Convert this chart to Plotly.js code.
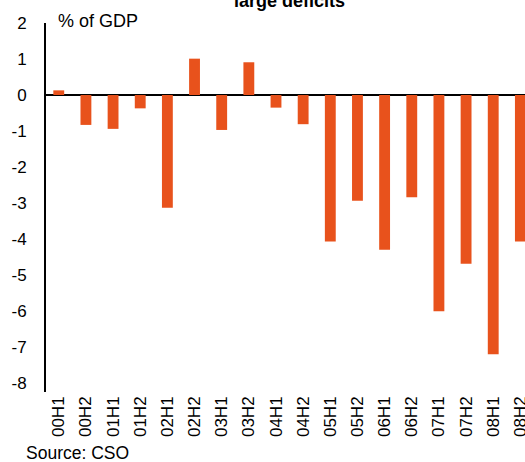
<!DOCTYPE html>
<html>
<head>
<meta charset="utf-8">
<script src="https://cdn.plot.ly/plotly-3.0.1.min.js"></script>
<style>html,body{margin:0;padding:0;background:#fff;}#chart{width:525px;height:462px;}</style>
</head>
<body>
<div id="chart"></div>
<script>
var categories = ["00H1","00H2","01H1","01H2","02H1","02H2","03H1","03H2","04H1","04H2","05H1","05H2","06H1","06H2","07H1","07H2","08H1","08H2"];
var balance = [0.13,-0.83,-0.94,-0.37,-3.13,1.01,-0.97,0.91,-0.35,-0.81,-4.07,-2.94,-4.30,-2.84,-6.01,-4.69,-7.20,-4.07];
var yTicks = [2,1,0,-1,-2,-3,-4,-5,-6,-7,-8];
var titleText = "large deficits";
var unitText = "% of GDP";
var sourceText = "Source: CSO";

var font = "Arial, 'Liberation Sans', sans-serif";

var trace = {
  type: "bar",
  x: categories,
  y: balance,
  marker: {color: "#E8521C", line: {width: 0}},
  width: 0.4,
  hoverinfo: "none"
};

var layout = {
  width: 525,
  height: 462,
  margin: {l: 46, r: 0, t: 23, b: 70, pad: 0},
  paper_bgcolor: "#ffffff",
  plot_bgcolor: "#ffffff",
  showlegend: false,
  font: {family: font, size: 17, color: "#000"},
  xaxis: {
    type: "category",
    range: [-0.47, 17.17],
    tickangle: -90,
    ticks: "",
    showgrid: false,
    zeroline: false,
    showline: false,
    tickfont: {family: font, size: 17, color: "#000"},
    fixedrange: true
  },
  yaxis: {
    range: [-8.25, 2.001],
    tickvals: yTicks,
    ticktext: yTicks.map(String),
    ticks: "",
    ticklabelstandoff: 14,
    showgrid: false,
    zeroline: true,
    zerolinecolor: "#000",
    zerolinewidth: 2,
    showline: true,
    linecolor: "#000",
    linewidth: 2,
    tickfont: {family: font, size: 17, color: "#000"},
    fixedrange: true
  },
  annotations: [
    {text: "<b>" + titleText + "</b>", xref: "paper", yref: "paper", x: 0.509, y: 1.06,
     xanchor: "center", yanchor: "middle", showarrow: false, font: {family: font, size: 18, color: "#000"}},
    {text: unitText, xref: "paper", yref: "paper", x: 0.021, y: 1.005,
     xanchor: "left", yanchor: "middle", showarrow: false, font: {family: font, size: 18, color: "#000"}},
    {text: sourceText, xref: "paper", yref: "paper", x: -0.046, y: -0.165,
     xanchor: "left", yanchor: "middle", showarrow: false, font: {family: font, size: 17.5, color: "#000"}}
  ]
};

Plotly.newPlot("chart", [trace], layout, {displayModeBar: false, staticPlot: true});
</script>
</body>
</html>
